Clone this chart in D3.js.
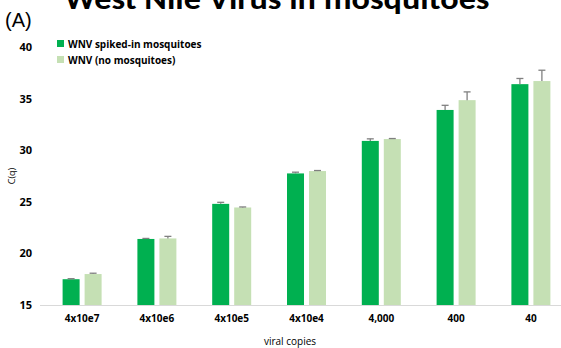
<!DOCTYPE html>
<html><head><meta charset="utf-8">
<script src="https://cdn.jsdelivr.net/npm/d3@7"></script>
<style>body{margin:0;background:#fff}svg{display:block;font-family:Carlito,Calibri,"Open Sans","Liberation Sans",sans-serif}</style>
</head><body>
<svg id="c" width="561" height="348"></svg>
<script>
const categories = ["4x10e7","4x10e6","4x10e5","4x10e4","4,000","400","40"];
const seriesNames = ["WNV spiked-in mosquitoes","WNV (no mosquitoes)"];
const spiked = [17.5, 21.4, 24.8, 27.75, 30.9, 33.9, 36.4];
const spikedErr = [0.05, 0.05, 0.15, 0.12, 0.2, 0.45, 0.55];
const noMosq = [18.0, 21.45, 24.45, 27.98, 31.08, 34.85, 36.7];
const noMosqErr = [0.08, 0.2, 0.05, 0.05, 0.05, 0.8, 1.05];
const yTicks = [15,20,25,30,35,40];
const colors = ["#00b050","#c5e0b4"];

const svg = d3.select("#c");
const y = d3.scaleLinear().domain([15,40]).range([305,47]);
const x = d3.scaleBand().domain(categories).range([44.7,568.3]);
const x1 = d3.scaleBand().domain(seriesNames).range([x.bandwidth()/2-19.5, x.bandwidth()/2+19.5]).paddingInner(0.227);

// title (cropped)
svg.append("text").attr("x",277).attr("y",9).attr("text-anchor","middle")
  .attr("font-size",30).attr("font-weight","bold").attr("textLength",425).attr("lengthAdjust","spacingAndGlyphs")
  .text("West Nile Virus in mosquitoes");
svg.append("text").attr("x",5).attr("y",27).attr("font-size",20).attr("font-family","'Liberation Sans',Arial,sans-serif").text("(A)");

// y axis
const yAxis = d3.axisLeft(y).tickValues(yTicks).tickSize(0).tickPadding(0);
const gy = svg.append("g").attr("transform","translate(32,0)").call(yAxis);
gy.select(".domain").remove();
gy.selectAll("text").attr("font-size",11).attr("font-weight","bold").attr("fill","#000").attr("font-family","'Open Sans',sans-serif");

// baseline
svg.append("line").attr("x1",40).attr("x2",561).attr("y1",y(15)+0.5).attr("y2",y(15)+0.5).attr("stroke","#d9d9d9").attr("stroke-width",1);

const data = categories.map((c,i)=>({c, vals:[{s:seriesNames[0],v:spiked[i],e:spikedErr[i],k:0},{s:seriesNames[1],v:noMosq[i],e:noMosqErr[i],k:1}]}));
const g = svg.append("g").selectAll("g").data(data).join("g").attr("transform",d=>`translate(${x(d.c)},0)`);
g.selectAll("rect").data(d=>d.vals).join("rect")
  .attr("x",d=>x1(d.s)).attr("width",x1.bandwidth())
  .attr("y",d=>y(d.v)).attr("height",d=>y(15)-y(d.v)).attr("fill",d=>colors[d.k]);
const eb = g.selectAll("g.err").data(d=>d.vals).join("g").attr("class","err").attr("stroke","#808080").attr("stroke-width",1.3);
eb.append("line").attr("x1",d=>x1(d.s)+x1.bandwidth()/2).attr("x2",d=>x1(d.s)+x1.bandwidth()/2)
  .attr("y1",d=>y(d.v)).attr("y2",d=>y(d.v+d.e));
eb.append("line").attr("x1",d=>x1(d.s)+x1.bandwidth()/2-3.5).attr("x2",d=>x1(d.s)+x1.bandwidth()/2+3.5)
  .attr("y1",d=>y(d.v+d.e)).attr("y2",d=>y(d.v+d.e));

// x axis labels
const xAxis = d3.axisBottom(x).tickSize(0).tickPadding(0);
const gx = svg.append("g").attr("transform","translate(0,315)").call(xAxis);
gx.select(".domain").remove();
gx.selectAll("text").attr("font-size",10).attr("font-weight","bold").attr("fill","#000").attr("font-family","'Open Sans',sans-serif");

svg.append("text").attr("x",290).attr("y",345).attr("text-anchor","middle").attr("font-size",10).attr("font-family","'Open Sans',sans-serif").text("viral copies");
svg.append("text").attr("transform","translate(15,176) rotate(-90)").attr("text-anchor","middle").attr("font-size",9).attr("font-family","'Open Sans',sans-serif").text("C(q)");

// legend
const lg = svg.append("g").selectAll("g").data(seriesNames).join("g").attr("transform",(d,i)=>`translate(57,${44+i*16})`);
lg.append("rect").attr("x",0).attr("y",-4).attr("width",7).attr("height",7).attr("fill",(d,i)=>colors[i]);
lg.append("text").attr("x",11).attr("y",3.5).attr("font-size",10).attr("font-weight","bold").attr("font-family","'Open Sans',sans-serif").text(d=>d);
</script>
</body></html>
